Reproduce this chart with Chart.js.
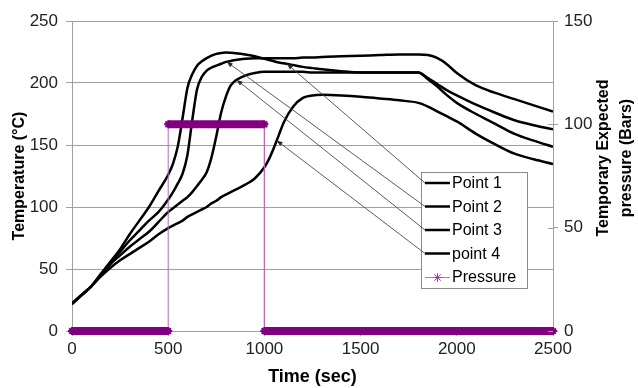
<!DOCTYPE html>
<html>
<head>
<meta charset="utf-8">
<script src="https://cdn.jsdelivr.net/npm/chart.js@4.4.1/dist/chart.umd.min.js"></script>
<style>
  html, body { margin: 0; padding: 0; background: #ffffff; }
  #wrap { width: 638px; height: 388px; }
</style>
</head>
<body>
<div id="wrap"><canvas id="c" width="638" height="388"></canvas></div>
<script>
// ---------- DATA ----------
const times = [0,50,100,150,200,250,300,350,400,450,500,525,550,575,600,625,650,675,700,725,750,775,800,825,850,900,950,1000,1025,1050,1075,1100,1150,1200,1250,1300,1400,1500,1600,1700,1800,1850,1900,1950,2000,2100,2200,2300,2400,2500];

const point1 = [22,29,36,46,56,66,78,89,100,113,126,135,149,172,196,207,214,217.5,220,222,223.5,224.2,224.5,224.3,224,223,221.5,219.5,218.5,217.5,216.5,216,214.5,213,212,211,209.5,208.5,208.5,208.5,208.5,203,197,190,184,175,167,159,153.5,148.5];
const point2 = [22,29,36,46,55,64,73,81,89,96,106,112,119,127,142,170,195,205,210,212.5,214,215.5,217,217.8,218.5,219.5,220,220,220,220,220,220,220,220.5,220.5,221,221.5,222,222.5,223,223,222.5,220,215,208,198,192,187,182,177];
const point3 = [22,29,36,45,54,61,68,74,80,88,96,99,102,105,108,112,117,122,128,140,157,176,189,198,202,206,208,209,209,209,209,209,209,209,208.5,208.5,208.5,208.5,208.5,208.5,208.5,204,199,194,190,182.5,176,170,166,162.7];
const point4 = [22,29,36,44,51,57,62,67,72,78,83,85,87,89,92,94,96,98,100,103,105,108,110,112,114,118,123,132,139,148,158,168,181,188,190,190.5,190,189,187.5,186,184,181,177,173,169,159,150.5,143,138.5,134.7];

const pressureTimes  = [0, 500, 500, 1000, 1000, 2500];
const pressureValues = [0, 0, 100, 100, 0, 0];

const seriesNames  = ['Point 1', 'Point 2', 'Point 3', 'point 4', 'Pressure'];
const arrowTimes   = [1117, 804, 856, 1064];   // where each leader line touches its curve

const xTitle  = 'Time (sec)';
const yTitle  = 'Temperature (°C)';
const y2Title = ['Temporary Expected', 'pressure (Bars)'];

// ---------- HELPERS ----------
const FONT = "'Liberation Sans', Arial, sans-serif";
const toXY = (xs, ys) => xs.map((t, i) => ({ x: t, y: ys[i] }));
const tempSeries = [point1, point2, point3, point4];

function interp(xs, ys, t) {
  for (let i = 0; i < xs.length - 1; i++) {
    if (t >= xs[i] && t <= xs[i + 1]) {
      const f = (t - xs[i]) / (xs[i + 1] - xs[i]);
      return ys[i] + f * (ys[i + 1] - ys[i]);
    }
  }
  return ys[ys.length - 1];
}

function drawStar(ctx, x, y, r, color) {
  ctx.save();
  ctx.strokeStyle = color; ctx.lineWidth = 1;
  ctx.beginPath();
  for (let k = 0; k < 4; k++) {
    const a = k * Math.PI / 4;
    ctx.moveTo(x - r * Math.cos(a), y - r * Math.sin(a));
    ctx.lineTo(x + r * Math.cos(a), y + r * Math.sin(a));
  }
  ctx.stroke();
  ctx.restore();
}

const overlayPlugin = {
  id: 'overlay',
  afterDraw(chart) {
    const ctx = chart.ctx;
    const ca = chart.chartArea;
    const xs = chart.scales.x, ys = chart.scales.y;

    // right-axis ticks crossing the axis line (both sides)
    const y2 = chart.scales.y2;
    ctx.save();
    ctx.strokeStyle = '#a0a0a0'; ctx.lineWidth = 1;
    y2.ticks.forEach(t => {
      const py = Math.round(y2.getPixelForValue(t.value)) + 0.5;
      ctx.beginPath(); ctx.moveTo(ca.right - 5, py); ctx.lineTo(ca.right, py); ctx.stroke();
    });
    ctx.restore();

    // right axis title (reads bottom-to-top)
    ctx.save();
    ctx.fillStyle = '#000';
    ctx.font = 'bold 16px ' + FONT;
    ctx.textAlign = 'center';
    ctx.textBaseline = 'middle';
    const midY = ca.top + (ca.bottom - ca.top) / 2 - 18;
    y2Title.forEach((line, i) => {
      ctx.save();
      ctx.translate(ca.right + 51 + i * 23, midY);
      ctx.rotate(-Math.PI / 2);
      ctx.fillText(line, 0, 0);
      ctx.restore();
    });
    ctx.restore();

    // legend box
    const bx = ca.right - 132, by = ca.top + 151, bw = 106, bh = 116;
    ctx.save();
    ctx.fillStyle = '#ffffff';
    ctx.fillRect(bx, by, bw, bh);
    ctx.strokeStyle = '#8a8a8a';
    ctx.lineWidth = 1;
    ctx.strokeRect(bx + 0.5, by + 0.5, bw, bh);

    const rowY = i => by + 11 + i * 23.5;
    const sx0 = bx + 4, sx1 = bx + 29;

    // leader lines with arrowheads
    ctx.strokeStyle = '#4a4a4a';
    ctx.fillStyle = '#2a2a2a';
    ctx.lineWidth = 0.9;
    arrowTimes.forEach((t, i) => {
      const tx = xs.getPixelForValue(t);
      const ty = ys.getPixelForValue(interp(times, tempSeries[i], t));
      const fx = sx0, fy = rowY(i);
      ctx.beginPath();
      ctx.moveTo(fx, fy);
      ctx.lineTo(tx, ty);
      ctx.stroke();
      const ang = Math.atan2(ty - fy, tx - fx);
      const L = 6, W = 2.3;
      ctx.beginPath();
      ctx.moveTo(tx, ty);
      ctx.lineTo(tx - L * Math.cos(ang) + W * Math.sin(ang), ty - L * Math.sin(ang) - W * Math.cos(ang));
      ctx.lineTo(tx - L * Math.cos(ang) - W * Math.sin(ang), ty - L * Math.sin(ang) + W * Math.cos(ang));
      ctx.closePath();
      ctx.fill();
    });

    // legend samples + labels
    ctx.font = '16px ' + FONT;
    ctx.textAlign = 'left';
    ctx.textBaseline = 'middle';
    seriesNames.forEach((name, i) => {
      const y = rowY(i);
      if (i < 4) {
        ctx.strokeStyle = '#000'; ctx.lineWidth = 2.5;
        ctx.beginPath(); ctx.moveTo(sx0, y); ctx.lineTo(sx1, y); ctx.stroke();
      } else {
        ctx.strokeStyle = '#c070c0'; ctx.lineWidth = 1;
        ctx.beginPath(); ctx.moveTo(sx0, y + 0.5); ctx.lineTo(sx1, y + 0.5); ctx.stroke();
        drawStar(ctx, (sx0 + sx1) / 2, y + 0.5, 4.5, '#a040a0');
      }
      ctx.fillStyle = '#000';
      ctx.fillText(name, sx1 + 2, y + 1);
    });
    ctx.restore();
  }
};

const tempDatasets = tempSeries.map((s, i) => ({
  label: seriesNames[i],
  data: toXY(times, s),
  yAxisID: 'y',
  borderColor: '#000000',
  borderWidth: 2.5,
  pointRadius: 0,
  fill: false,
  cubicInterpolationMode: 'monotone'
}));

const pressureDataset = {
  label: seriesNames[4],
  data: toXY(pressureTimes, pressureValues),
  yAxisID: 'y2',
  clip: false,
  borderColor: '#800080',
  borderWidth: 8,
  tension: 0,
  pointStyle: 'star',
  pointRadius: 4,
  pointBorderWidth: 2,
  pointBorderColor: '#800080',
  pointBackgroundColor: '#800080',
  segment: {
    borderWidth: c => (c.p0.parsed.y === c.p1.parsed.y ? 8 : 1),
    borderColor: c => (c.p0.parsed.y === c.p1.parsed.y ? '#800080' : '#b868b8')
  }
};

new Chart(document.getElementById('c'), {
  type: 'line',
  data: { datasets: [pressureDataset, ...tempDatasets] },
  options: {
    responsive: false,
    animation: false,
    devicePixelRatio: 1,
    layout: { padding: { top: 21, left: 0, right: 0, bottom: 0 } },
    plugins: { legend: { display: false }, tooltip: { enabled: false } },
    scales: {
      x: {
        type: 'linear',
        min: 0, max: 2500,
        ticks: { stepSize: 500, color: '#222', font: { family: FONT, size: 17 }, padding: 3, maxRotation: 0,
                 callback: v => String(v) },
        grid: { drawOnChartArea: false, color: '#a0a0a0', tickLength: 5 },
        border: { color: '#a0a0a0' },
        title: { display: true, text: xTitle, color: '#000', font: { family: FONT, size: 18, weight: 'bold' }, padding: { top: 0, bottom: 0 } },
        afterFit: s => { s.height = 57; }
      },
      y: {
        position: 'left',
        min: 0, max: 250,
        ticks: { stepSize: 50, color: '#222', font: { family: FONT, size: 17 }, padding: 8 },
        grid: { color: '#a0a0a0', tickLength: 6 },
        border: { color: '#a0a0a0' },
        title: { display: true, text: yTitle, color: '#000', font: { family: FONT, size: 16, weight: 'bold' }, padding: { top: 10, bottom: 0 } },
        afterFit: s => { s.width = 72; }
      },
      y2: {
        position: 'right',
        min: 0, max: 150,
        ticks: { stepSize: 50, color: '#222', font: { family: FONT, size: 17 }, padding: 6 },
        grid: { drawOnChartArea: false, color: '#a0a0a0', tickLength: 5 },
        border: { color: '#a0a0a0' },
        afterFit: s => { s.width = 85; }
      }
    }
  },
  plugins: [overlayPlugin]
});
</script>
</body>
</html>
